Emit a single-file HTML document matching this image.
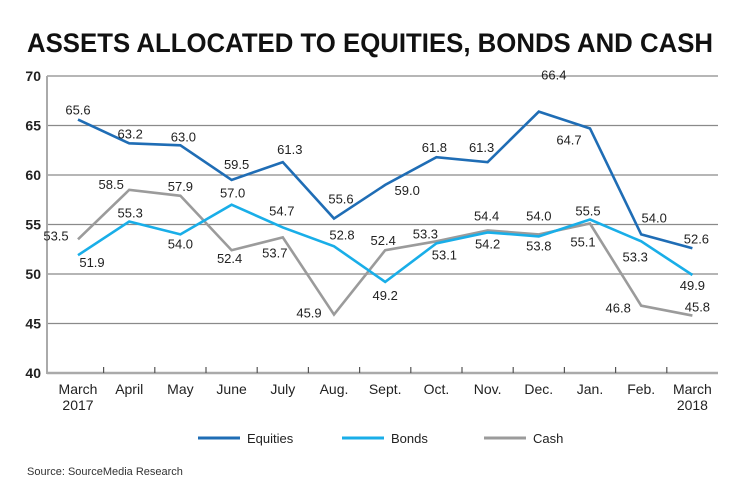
<!DOCTYPE html>
<html><head><meta charset="utf-8"><style>
html,body{margin:0;padding:0;background:#fff;}
svg{display:block;font-family:"Liberation Sans",sans-serif;}
</style></head><body>
<svg id="chart" width="740" height="502" viewBox="0 0 740 502">
<text x="27" y="52" font-size="27" font-weight="bold" fill="#111" textLength="686" lengthAdjust="spacingAndGlyphs">ASSETS ALLOCATED TO EQUITIES, BONDS AND CASH</text>
<g id="grid"></g><g id="axes"></g><g id="series"></g><g id="labels"></g>
<g>
<g><line x1="198" y1="438" x2="240" y2="438" stroke="#1f6db5" stroke-width="3"/><text x="247" y="443" font-size="13" fill="#222">Equities</text></g>
<g><line x1="342" y1="438" x2="384" y2="438" stroke="#19aee8" stroke-width="3"/><text x="391" y="443" font-size="13" fill="#222">Bonds</text></g>
<g><line x1="484" y1="438" x2="526" y2="438" stroke="#9b9b9b" stroke-width="3"/><text x="533" y="443" font-size="13" fill="#222">Cash</text></g>
</g>
<text x="27" y="475" font-size="11" fill="#333">Source: SourceMedia Research</text>
</svg>
<script>
const categories=["March|2017","April","May","June","July","Aug.","Sept.","Oct.","Nov.","Dec.","Jan.","Feb.","March|2018"];
const equities=[65.6,63.2,63.0,59.5,61.3,55.6,59.0,61.8,61.3,66.4,64.7,54.0,52.6];
const bonds=[51.9,55.3,54.0,57.0,54.7,52.8,49.2,53.1,54.2,53.8,55.5,53.3,49.9];
const cash=[53.5,58.5,57.9,52.4,53.7,45.9,52.4,53.3,54.4,54.0,55.1,46.8,45.8];
const yTicks=[40,45,50,55,60,65,70];
const NS="http://www.w3.org/2000/svg";
const X0=78,DX=51.2,Y40=373,PU=9.9,LEFT=47,RIGHT=718;
const x=i=>X0+i*DX, y=v=>Y40-(v-40)*PU;
function mk(tag,attrs,parent){const e=document.createElementNS(NS,tag);for(const k in attrs)e.setAttribute(k,attrs[k]);parent.appendChild(e);return e;}
const grid=document.getElementById('grid'),axes=document.getElementById('axes'),ser=document.getElementById('series'),lab=document.getElementById('labels');
yTicks.forEach(t=>{
  if(t>40){const l=mk('line',{x1:LEFT,x2:RIGHT,y1:y(t),y2:y(t),stroke:t===50?'#b5b5b5':'#8a8a8a','stroke-width':t===50?2:1.2},grid);
  
  }
  const tx=mk('text',{x:LEFT-6,y:y(t)+5,'text-anchor':'end','font-size':14,'font-weight':'bold',fill:'#222'},axes);tx.textContent=t;
  
  
});
const la=mk('line',{x1:LEFT,x2:LEFT,y1:y(70),y2:Y40+1,stroke:'#aaa','stroke-width':2},axes);


const ba=mk('line',{x1:LEFT,x2:RIGHT,y1:Y40,y2:Y40,stroke:'#aaa','stroke-width':2.5},axes);


categories.forEach((c,i)=>{
  if(i<categories.length-1){const tk=mk('line',{x1:x(i)+DX/2,x2:x(i)+DX/2,y1:Y40-6,y2:Y40,stroke:'#555','stroke-width':1.2},axes);
  
  }
  const parts=c.split('|');
  const t=mk('text',{x:x(i),y:Y40+21,'text-anchor':'middle','font-size':14,fill:'#222'},axes);
  
  
  parts.forEach((p,k)=>{const s=mk('tspan',{x:x(i),dy:k?16:0},t);s.textContent=p;});
});
const series=[
 {name:'equities',vals:equities,color:'#1f6db5',off:[[0,-10],[1,-10],[3,-9],[5,-16],[7,-13],[7,-20],[22,5],[-2,-10],[-6,-15],[15,-37],[-21,11],[13,-17],[4,-10]]},
 {name:'bonds',vals:bonds,color:'#19aee8',off:[[14,7],[1,-9],[0,9],[1,-12],[-1,-17],[8,-12],[0,13],[8,11],[0,11],[0,9],[-2,-9],[-6,15],[0,10]]},
 {name:'cash',vals:cash,color:'#9b9b9b',off:[[-22,-4],[-18,-6],[0,-10],[-2,8],[-8,15],[-25,-2],[-2,-10],[-11,-8],[-1,-15],[0,-19],[-7,18],[-23,2],[5,-9]]}
];
[2,1,0].forEach(si=>{const s=series[si];
  const p=mk('polyline',{points:s.vals.map((v,i)=>x(i)+','+y(v)).join(' '),fill:'none',stroke:s.color,'stroke-width':2.6,'stroke-linejoin':'miter'},ser);
  
  
});
series.forEach(s=>{s.vals.forEach((v,i)=>{
  const t=mk('text',{x:x(i)+s.off[i][0],y:y(v)+s.off[i][1]+5,'text-anchor':'middle','font-size':13,fill:'#222'},lab);
  t.textContent=v.toFixed(1);
  
  
});});
</script>
</body></html>
